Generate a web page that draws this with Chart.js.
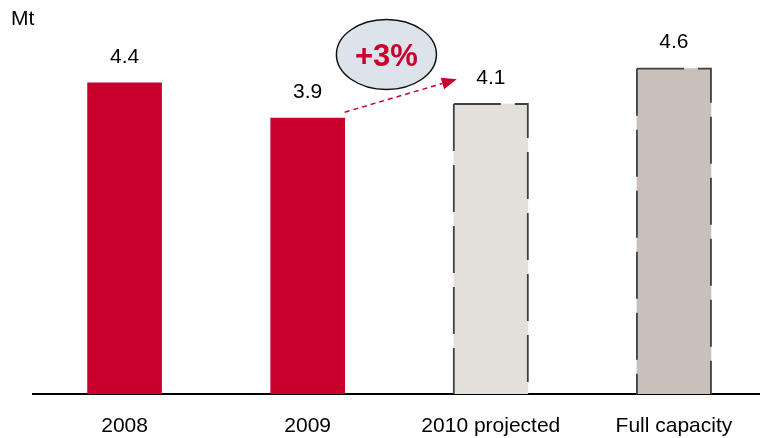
<!DOCTYPE html>
<html>
<head>
<meta charset="utf-8">
<script src="https://cdn.jsdelivr.net/npm/chart.js@4"></script>
<style>
  html, body { margin: 0; padding: 0; background: #fff; }
  #wrap { width: 760px; height: 438px; }
</style>
</head>
<body>
<div id="wrap"><canvas id="volumeChart"></canvas></div>
<script>
const categories = ['2008', '2009', '2010 projected', 'Full capacity'];
const volumes = [4.4, 3.9, 4.1, 4.6];
const projected = [false, false, true, true];
const unitLabel = 'Mt';
const growthLabel = '+3%';

const RED = '#c9002b';
const FONT = 'Arial, "Liberation Sans", sans-serif';

// value labels, unit, dashed outlines and the growth bubble
const extrasPlugin = {
    id: 'extras',
    afterDatasetsDraw(chart) {
        const ctx = chart.ctx;
        const xs = chart.scales.x;
        const ys = chart.scales.y;
        const meta = chart.getDatasetMeta(0);

        ctx.save();

        // dashed outline on projected bars (open at the bottom)
        ctx.strokeStyle = '#404040';
        ctx.lineWidth = 1.8;
        ctx.setLineDash([47, 14]);
        meta.data.forEach((bar, i) => {
            if (!projected[i]) return;
            const p = bar.getProps(['x', 'y', 'base', 'width'], true);
            const l = p.x - p.width / 2, r = p.x + p.width / 2;
            ctx.beginPath();
            ctx.moveTo(l, p.y);
            ctx.lineTo(r, p.y);
            ctx.lineTo(r, p.base);
            ctx.stroke();
            ctx.beginPath();
            ctx.moveTo(l, p.y);
            ctx.lineTo(l, p.base);
            ctx.stroke();
        });
        ctx.setLineDash([]);

        // values above bars
        ctx.fillStyle = '#000';
        ctx.font = '21px ' + FONT;
        ctx.textAlign = 'center';
        ctx.textBaseline = 'middle';
        meta.data.forEach((bar, i) => {
            ctx.fillText(volumes[i].toFixed(1), bar.x, bar.y - 26);
        });

        // unit
        ctx.textAlign = 'left';
        ctx.fillText(unitLabel, 11, 19);

        // dashed growth arrow from 2009 towards 2010
        const x0 = xs.getPixelForValue(1) + 37, y0 = ys.getPixelForValue(volumes[1]) - 6;
        const x1 = xs.getPixelForValue(2) - 34, y1 = ys.getPixelForValue(4.45);
        const ang = Math.atan2(y1 - y0, x1 - x0);
        const head = 15;
        ctx.strokeStyle = RED;
        ctx.fillStyle = RED;
        ctx.lineWidth = 1.5;
        ctx.setLineDash([5, 4]);
        ctx.beginPath();
        ctx.moveTo(x0, y0);
        ctx.lineTo(x1 - head * Math.cos(ang), y1 - head * Math.sin(ang));
        ctx.stroke();
        ctx.setLineDash([]);
        ctx.beginPath();
        ctx.moveTo(x1, y1);
        ctx.lineTo(x1 - head * Math.cos(ang) + 6 * Math.sin(ang), y1 - head * Math.sin(ang) - 6 * Math.cos(ang));
        ctx.lineTo(x1 - head * Math.cos(ang) - 6 * Math.sin(ang), y1 - head * Math.sin(ang) + 6 * Math.cos(ang));
        ctx.closePath();
        ctx.fill();

        // growth bubble
        const cx = xs.getPixelForValue(1.43), cy = ys.getPixelForValue(4.8);
        ctx.beginPath();
        ctx.ellipse(cx, cy, 50, 35, 0, 0, Math.PI * 2);
        ctx.fillStyle = '#dde3ea';
        ctx.fill();
        ctx.strokeStyle = '#111';
        ctx.lineWidth = 1.5;
        ctx.stroke();
        ctx.fillStyle = RED;
        ctx.font = 'bold 31px ' + FONT;
        ctx.textAlign = 'center';
        ctx.fillText(growthLabel, cx, cy + 3);

        ctx.restore();
    }
};

new Chart(document.getElementById('volumeChart').getContext('2d'), {
    type: 'bar',
    data: {
        datasets: [{
            data: volumes.map((v, i) => ({ x: i, y: v })),
            backgroundColor: [RED, RED, '#e3e0dc', '#c8c0bb'],
            borderWidth: 0,
            barThickness: 74
        }]
    },
    options: {
        responsive: true,
        maintainAspectRatio: false,
        animation: false,
        layout: { padding: { left: 33, right: 0, top: 5, bottom: 0 } },
        plugins: { legend: { display: false }, tooltip: { enabled: false } },
        scales: {
            x: {
                type: 'linear',
                offset: false,
                min: -0.5,
                max: 3.47,
                afterBuildTicks: axis => { axis.ticks = categories.map((c, i) => ({ value: i })); },
                afterFit: axis => { axis.height = 44; },
                grid: { display: false, drawTicks: false },
                border: { display: true, color: '#000', width: 2 },
                ticks: {
                    color: '#000',
                    font: { size: 21, family: FONT },
                    padding: 20,
                    maxRotation: 0,
                    autoSkip: false,
                    callback: v => categories[v]
                }
            },
            y: {
                display: false,
                min: 0,
                max: 5.5
            }
        }
    },
    plugins: [extrasPlugin]
});
</script>
</body>
</html>
